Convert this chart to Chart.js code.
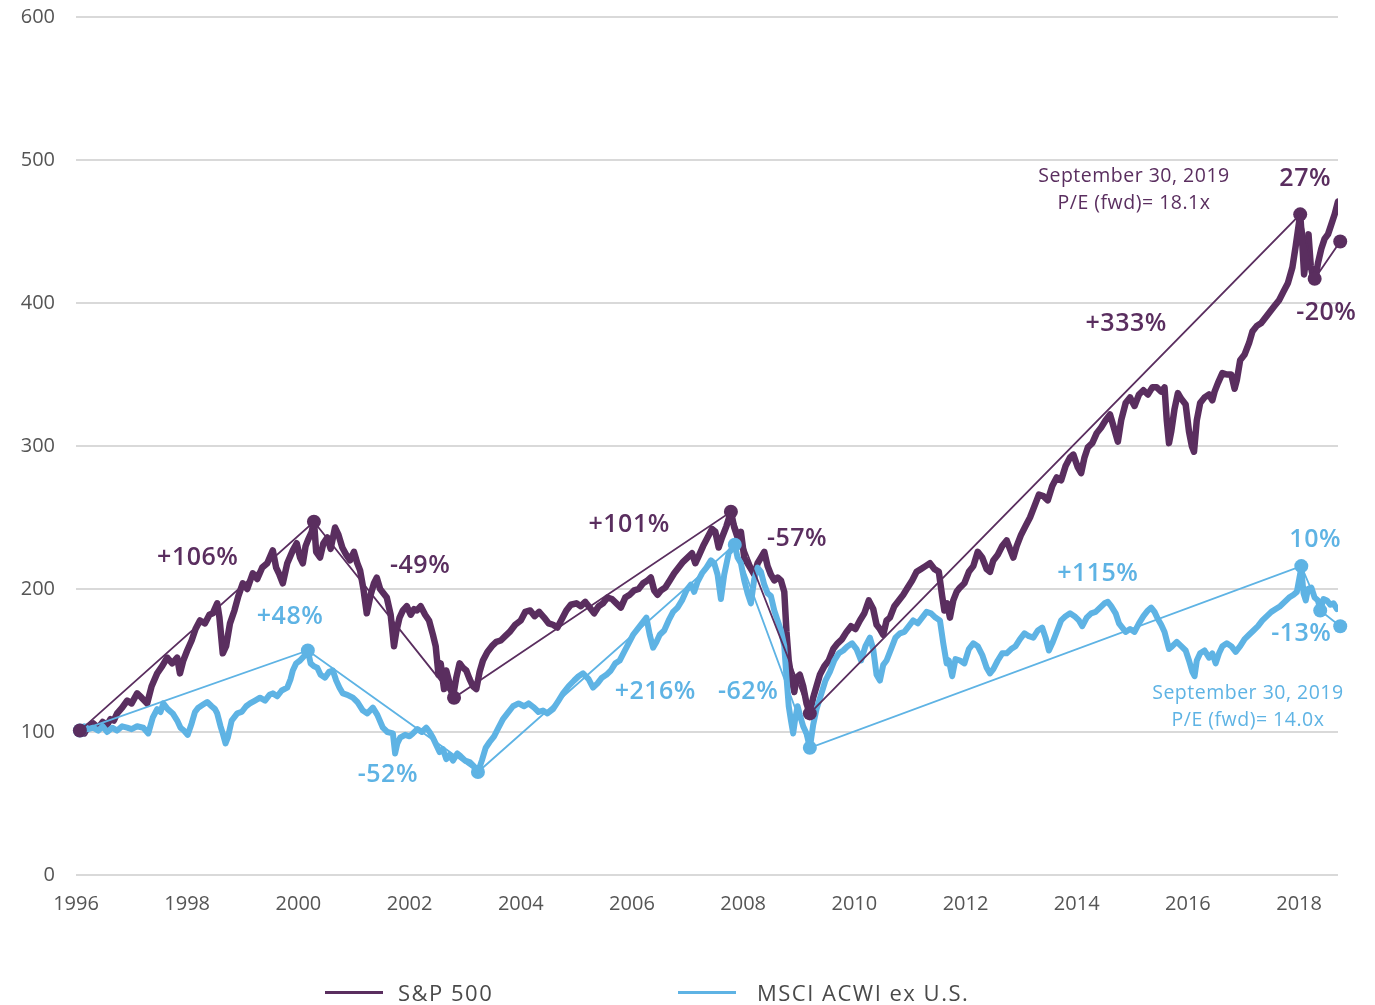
<!DOCTYPE html>
<html>
<head>
<meta charset="utf-8">
<script src="https://cdn.jsdelivr.net/npm/chart.js@4.4.1/dist/chart.umd.min.js"></script>
<style>
  html, body { margin: 0; padding: 0; background: #fff; }
  #wrap { position: relative; width: 1375px; height: 1005px; overflow: hidden; }
  #c { position: absolute; left: 0; top: -16px; }
  .lg { position: absolute; top: 977px; height: 30px; display: flex; align-items: center;
        font-family: "Open Sans", sans-serif; font-size: 22px; color: #4a4a4a; letter-spacing: 1.5px; }
  .lg .sw { display: inline-block; width: 58px; height: 3px; margin-right: 15px; }
</style>
</head>
<body>
<div id="wrap">
  <canvas id="c" width="1375" height="1021"></canvas>
  <div class="lg" style="left:325px"><span class="sw" style="background:#5a2e5f"></span><span>S&amp;P 500</span></div>
  <div class="lg" style="left:678px"><span class="sw" style="background:#5eb3e4"></span><span style="margin-left:6px">MSCI ACWI ex U.S.</span></div>
</div>
<script>
// ---------- DATA ----------
const xTickYears = [1996, 1998, 2000, 2002, 2004, 2006, 2008, 2010, 2012, 2014, 2016, 2018];
const yTickValues = [0, 100, 200, 300, 400, 500, 600];

const spxYears = [
  1996.00,1996.07,1996.15,1996.22,1996.31,1996.40,1996.48,1996.56,1996.62,1996.68,1996.74,1996.83,1996.92,
  1997.00,1997.10,1997.18,1997.28,1997.36,1997.46,1997.55,1997.64,1997.73,1997.82,1997.87,1997.93,
  1998.00,1998.08,1998.15,1998.23,1998.32,1998.40,1998.46,1998.54,1998.58,1998.64,1998.70,1998.77,1998.85,1998.92,
  1999.00,1999.08,1999.18,1999.26,1999.35,1999.44,1999.54,1999.60,1999.66,1999.72,1999.80,1999.90,1999.97,
  2000.03,2000.08,2000.13,2000.17,2000.24,2000.28,2000.32,2000.39,2000.45,2000.52,2000.58,2000.66,2000.72,2000.79,2000.86,2000.93,
  2001.00,2001.06,2001.11,2001.17,2001.23,2001.30,2001.36,2001.41,2001.47,2001.53,2001.59,2001.66,2001.72,2001.76,2001.82,2001.88,2001.95,
  2002.02,2002.08,2002.13,2002.20,2002.28,2002.35,2002.42,2002.47,2002.52,2002.56,2002.62,2002.66,2002.72,2002.78,2002.84,2002.90,2002.96,
  2003.02,2003.08,2003.14,2003.20,2003.26,2003.32,2003.40,2003.48,2003.56,2003.64,2003.72,2003.80,2003.90,
  2004.00,2004.08,2004.17,2004.25,2004.33,2004.42,2004.50,2004.58,2004.66,2004.74,2004.82,2004.90,
  2005.00,2005.08,2005.16,2005.24,2005.32,2005.40,2005.48,2005.56,2005.64,2005.72,2005.80,2005.88,2005.96,
  2006.04,2006.12,2006.20,2006.28,2006.34,2006.40,2006.46,2006.52,2006.60,2006.68,2006.76,2006.84,2006.92,
  2007.00,2007.08,2007.14,2007.20,2007.28,2007.36,2007.44,2007.50,2007.56,2007.62,2007.70,2007.78,2007.84,2007.90,2007.96,
  2008.02,2008.08,2008.14,2008.20,2008.26,2008.32,2008.38,2008.44,2008.50,2008.56,2008.62,2008.68,2008.74,2008.78,2008.82,2008.86,2008.92,2008.96,
  2009.02,2009.08,2009.14,2009.20,2009.26,2009.32,2009.38,2009.46,2009.54,2009.62,2009.70,2009.78,2009.86,2009.94,
  2010.02,2010.10,2010.18,2010.26,2010.34,2010.40,2010.46,2010.52,2010.58,2010.64,2010.72,2010.80,2010.88,2010.96,
  2011.04,2011.12,2011.20,2011.28,2011.36,2011.44,2011.52,2011.58,2011.62,2011.67,2011.72,2011.78,2011.84,2011.90,2011.98,
  2012.06,2012.14,2012.22,2012.30,2012.38,2012.44,2012.50,2012.58,2012.66,2012.74,2012.80,2012.86,2012.92,
  2013.00,2013.08,2013.16,2013.24,2013.32,2013.40,2013.48,2013.56,2013.64,2013.72,2013.80,2013.88,2013.94,
  2014.02,2014.08,2014.14,2014.20,2014.28,2014.36,2014.44,2014.52,2014.60,2014.66,2014.74,2014.80,2014.88,2014.96,
  2015.04,2015.12,2015.20,2015.28,2015.36,2015.44,2015.52,2015.58,2015.62,2015.66,2015.70,2015.76,2015.82,2015.88,2015.96,
  2016.02,2016.07,2016.11,2016.16,2016.22,2016.30,2016.38,2016.44,2016.48,2016.54,2016.62,2016.70,2016.78,2016.84,2016.88,2016.94,
  2017.02,2017.10,2017.16,2017.24,2017.32,2017.40,2017.48,2017.56,2017.64,2017.72,2017.80,2017.88,2017.94,
  2018.02,2018.06,2018.09,2018.13,2018.17,2018.21,2018.25,2018.29,2018.34,2018.40,2018.46,2018.52,2018.58,2018.64,2018.70
];
const spxValues = [
  100,101,99,104,106,103,107,105,109,108,113,117,122,
  120,127,124,120,132,141,146,152,148,152,141,150,
  157,164,172,178,176,182,183,190,180,155,160,176,185,195,
  204,200,211,207,215,218,227,215,210,204,218,227,232,
  222,218,230,234,240,248,226,222,232,236,228,243,238,229,224,220,
  226,218,213,200,183,196,204,208,200,197,194,182,160,170,180,185,188,
  182,186,185,188,182,178,168,160,140,148,130,143,134,124,138,148,145,
  143,137,132,130,142,150,156,160,163,164,167,170,175,
  178,184,185,181,184,180,176,175,173,179,185,189,
  190,188,191,187,183,188,190,194,193,190,187,194,196,
  199,200,204,206,208,199,196,199,201,206,211,215,219,
  222,225,218,223,230,236,242,240,229,236,244,254,243,236,240,
  222,218,214,210,218,222,226,216,210,206,208,206,198,170,150,140,128,138,
  140,132,120,113,124,132,140,146,150,158,162,165,170,174,
  172,178,183,192,186,175,172,168,178,180,188,192,196,201,
  206,212,214,216,218,214,212,195,185,190,180,192,198,201,204,
  212,216,226,222,214,212,220,224,230,234,228,222,230,
  238,244,250,258,266,265,262,272,278,276,286,292,294,
  285,281,292,299,302,309,313,318,322,314,303,318,330,334,
  328,336,339,336,341,341,338,341,318,302,310,326,337,333,329,
  310,300,296,318,330,334,336,332,338,344,351,350,350,340,346,360,
  364,372,380,384,386,390,394,398,402,408,414,425,440,
  462,440,420,432,448,426,418,416,428,438,445,448,455,462,471
];

const msciYears = [
  1996.00,1996.07,1996.15,1996.22,1996.31,1996.40,1996.48,1996.56,1996.65,1996.74,1996.83,1996.92,
  1997.00,1997.10,1997.21,1997.30,1997.38,1997.46,1997.52,1997.57,1997.65,1997.74,1997.82,1997.88,1997.94,
  1998.01,1998.08,1998.14,1998.20,1998.28,1998.36,1998.44,1998.50,1998.54,1998.60,1998.64,1998.69,1998.73,1998.80,1998.90,1998.98,
  1999.06,1999.13,1999.22,1999.31,1999.40,1999.48,1999.54,1999.62,1999.70,1999.80,1999.86,1999.90,1999.96,
  2000.03,2000.10,2000.17,2000.22,2000.28,2000.34,2000.40,2000.48,2000.55,2000.62,2000.68,2000.74,2000.80,2000.88,2000.98,
  2001.06,2001.16,2001.24,2001.34,2001.42,2001.52,2001.60,2001.70,2001.74,2001.78,2001.83,2001.92,
  2002.00,2002.06,2002.14,2002.22,2002.30,2002.36,2002.42,2002.48,2002.54,2002.60,2002.66,2002.72,2002.78,2002.86,2002.92,
  2003.00,2003.08,2003.16,2003.23,2003.30,2003.37,2003.44,2003.52,2003.60,2003.68,2003.76,2003.86,2003.96,
  2004.06,2004.14,2004.24,2004.32,2004.40,2004.48,2004.58,2004.68,2004.76,2004.86,2004.96,
  2005.04,2005.12,2005.22,2005.30,2005.38,2005.46,2005.54,2005.62,2005.70,2005.78,2005.86,2005.94,
  2006.02,2006.10,2006.18,2006.26,2006.32,2006.38,2006.44,2006.50,2006.58,2006.66,2006.74,2006.82,2006.90,2006.98,
  2007.06,2007.12,2007.18,2007.26,2007.34,2007.42,2007.48,2007.54,2007.60,2007.66,2007.74,2007.80,2007.85,2007.90,2007.96,
  2008.02,2008.08,2008.14,2008.20,2008.26,2008.32,2008.38,2008.44,2008.50,2008.56,2008.62,2008.68,2008.74,2008.78,2008.82,2008.86,2008.90,2008.94,2008.98,
  2009.02,2009.08,2009.14,2009.20,2009.26,2009.32,2009.40,2009.48,2009.56,2009.64,2009.72,2009.80,2009.88,2009.96,
  2010.04,2010.12,2010.20,2010.28,2010.34,2010.40,2010.46,2010.52,2010.58,2010.66,2010.74,2010.82,2010.90,2010.98,
  2011.06,2011.14,2011.22,2011.30,2011.38,2011.46,2011.54,2011.60,2011.66,2011.70,2011.76,2011.82,2011.90,2011.98,
  2012.06,2012.14,2012.22,2012.30,2012.38,2012.44,2012.50,2012.58,2012.66,2012.74,2012.82,2012.90,2012.98,
  2013.06,2013.14,2013.22,2013.30,2013.38,2013.44,2013.50,2013.56,2013.64,2013.72,2013.80,2013.88,2013.96,
  2014.04,2014.10,2014.18,2014.26,2014.34,2014.42,2014.50,2014.56,2014.62,2014.70,2014.76,2014.82,2014.88,2014.96,
  2015.04,2015.12,2015.20,2015.28,2015.34,2015.40,2015.46,2015.52,2015.58,2015.62,2015.66,2015.72,2015.80,2015.88,2015.96,
  2016.02,2016.08,2016.12,2016.16,2016.22,2016.30,2016.38,2016.44,2016.50,2016.56,2016.62,2016.70,2016.78,2016.86,2016.94,
  2017.02,2017.10,2017.18,2017.26,2017.34,2017.42,2017.50,2017.58,2017.66,2017.74,2017.82,2017.90,2017.96,
  2018.04,2018.08,2018.12,2018.16,2018.22,2018.28,2018.34,2018.38,2018.44,2018.50,2018.56,2018.62,2018.68
];
const msciValues = [
  100,101,104,102,103,101,104,100,103,101,104,103,
  102,104,103,99,110,116,114,120,116,113,108,103,101,
  98,106,114,117,119,121,118,116,113,104,99,92,96,108,113,114,
  118,120,122,124,122,126,127,125,129,131,137,143,148,
  150,153,157,148,146,145,140,138,142,143,136,131,127,126,124,
  121,115,113,117,112,103,100,99,85,92,96,98,
  97,99,102,100,103,100,96,91,86,88,81,84,80,85,83,
  80,79,76,72,80,89,93,97,103,109,113,118,120,
  118,120,117,114,115,113,116,122,127,132,136,
  139,141,137,131,134,138,140,143,148,150,156,162,
  168,172,176,180,168,159,163,168,171,178,184,187,192,199,
  203,198,205,211,215,220,218,210,193,210,225,228,231,222,218,
  206,197,190,207,215,212,203,197,195,185,178,171,160,138,118,108,99,110,118,
  112,104,99,89,105,116,126,136,142,150,155,157,160,162,
  158,150,160,166,158,140,136,147,150,158,166,169,170,174,
  178,176,180,184,183,180,178,162,148,150,139,151,150,148,
  158,162,160,154,145,141,144,150,155,155,158,160,165,
  169,167,166,171,173,166,157,162,170,178,181,183,181,
  178,174,180,183,184,187,190,191,188,183,176,173,170,172,
  170,176,181,185,187,184,179,175,170,164,158,160,163,160,157,
  150,142,139,150,155,157,152,155,148,155,160,162,160,156,160,
  165,168,171,174,178,181,184,186,188,191,194,196,198,
  215,197,192,200,201,194,192,185,193,192,189,190,186
];

// peaks and troughs joined by the thin lines
const spxTurnYears  = [1996.07, 2000.28, 2002.80, 2007.78, 2009.20, 2018.02, 2018.28, 2018.74];
const spxTurnValues = [101, 247, 124, 254, 113, 462, 417, 443];
const msciTurnYears  = [1996.07, 2000.17, 2003.23, 2007.85, 2009.20, 2018.04, 2018.38, 2018.74];
const msciTurnValues = [101, 157, 72, 231, 89, 216, 185, 174];

// annotation labels
const spxLabels  = ['+106%', '-49%', '+101%', '-57%', '+333%', '27%', '-20%'];
const msciLabels = ['+48%', '-52%', '+216%', '-62%', '+115%', '10%', '-13%'];
const spxNote  = ['September 30, 2019', 'P/E (fwd)= 18.1x'];
const msciNote = ['September 30, 2019', 'P/E (fwd)= 14.0x'];

// ---------- CHART ----------
const SPX = '#5a2e5f';
const MSCI = '#5eb3e4';
const zip = (xs, ys) => xs.map((x, i) => ({ x: x, y: ys[i] }));

// label placements (year, value) in data space
const spxLabelPos  = [[1998.19,222],[2002.19,216.5],[2005.95,244.5],[2008.97,235.4],[2014.89,385.6],[2018.11,486.8],[2018.49,393.2]];
const msciLabelPos = [[1999.85,180.2],[2001.61,69.8],[2006.42,127.8],[2008.09,127.8],[2014.38,210.9],[2018.29,234.7],[2018.04,168.3]];
const spxNotePos  = [[2015.03,488.2],[2015.03,469.4]];
const msciNotePos = [[2017.08,127.1],[2017.08,108.3]];

const labelPlugin = {
  id: 'labels',
  afterDatasetsDraw(chart) {
    const ctx = chart.ctx, xs = chart.scales.x, ys = chart.scales.y;
    ctx.save();
    ctx.textAlign = 'center';
    ctx.textBaseline = 'middle';
    try { ctx.letterSpacing = '0.5px'; } catch (e) {}
    const put = (texts, pos, color, font) => {
      ctx.fillStyle = color; ctx.font = font;
      texts.forEach((t, i) => ctx.fillText(t, xs.getPixelForValue(pos[i][0]), ys.getPixelForValue(pos[i][1])));
    };
    put(spxLabels, spxLabelPos, SPX, '600 25px "Open Sans"');
    put(msciLabels, msciLabelPos, MSCI, '600 25px "Open Sans"');
    put(spxNote, spxNotePos, SPX, '400 19.5px "Open Sans"');
    put(msciNote, msciNotePos, MSCI, '400 19.5px "Open Sans"');
    ctx.restore();
  }
};

new Chart(document.getElementById('c'), {
  type: 'line',
  data: {
    datasets: [
      { label: 'S&P 500 turns', data: zip(spxTurnYears, spxTurnValues), borderColor: SPX, backgroundColor: SPX,
        borderWidth: 1.8, pointRadius: 7, pointBackgroundColor: SPX, pointBorderWidth: 0, clip: false, order: 0 },
      { label: 'MSCI turns', data: zip(msciTurnYears, msciTurnValues), borderColor: MSCI, backgroundColor: MSCI,
        borderWidth: 1.8, pointRadius: 7, pointBackgroundColor: MSCI, pointBorderWidth: 0, clip: false, order: 1 },
      { label: 'MSCI ACWI ex U.S.', data: zip(msciYears, msciValues), borderColor: MSCI, backgroundColor: MSCI,
        borderWidth: 6, pointRadius: 0, borderJoinStyle: 'round', borderCapStyle: 'round', order: 2 },
      { label: 'S&P 500', data: zip(spxYears, spxValues), borderColor: SPX, backgroundColor: SPX,
        borderWidth: 6.5, pointRadius: 0, borderJoinStyle: 'round', borderCapStyle: 'round', order: 3 }
    ]
  },
  options: {
    responsive: false,
    animation: false,
    events: [],
    layout: { padding: { top: 0, right: 37, left: 0, bottom: 0 } },
    plugins: { legend: { display: false }, tooltip: { enabled: false } },
    scales: {
      x: {
        type: 'linear', min: 1996, max: 2018.70,
        grid: { display: false, drawTicks: false },
        border: { display: false },
        afterBuildTicks: (s) => { s.ticks = xTickYears.map(v => ({ value: v })); },
        afterFit: (s) => { s.height = 130; },
        ticks: { padding: 17, autoSkip: false, maxRotation: 0, color: '#555',
                 font: { family: '"Open Sans"', size: 20 }, callback: (v) => String(v) }
      },
      y: {
        min: 0, max: 600,
        afterBuildTicks: (s) => { s.ticks = yTickValues.map(v => ({ value: v })); },
        afterFit: (s) => { s.width = 76; },
        grid: { color: '#d9d9d9', lineWidth: 2, drawTicks: false },
        border: { display: false },
        ticks: { padding: 21, color: '#555', font: { family: '"Open Sans"', size: 20 }, callback: (v) => String(v) }
      }
    }
  },
  plugins: [labelPlugin]
});
</script>
</body>
</html>
